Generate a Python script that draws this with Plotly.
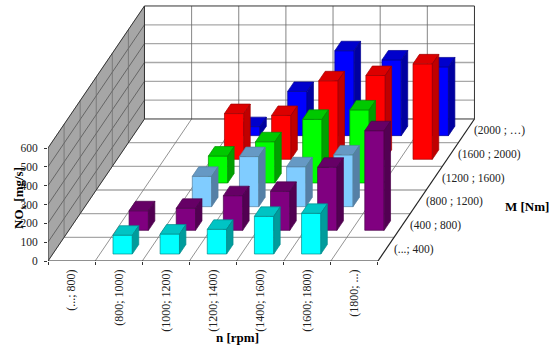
import plotly.graph_objects as go

# ---- data ----
n_labels = ["(...; 800)", "(800; 1000)", "(1000; 1200)", "(1200; 1400)",
            "(1400; 1600)", "(1600; 1800)", "(1800; ...)"]
m_labels = ["(...; 400)", "(400 ; 800)", "(800 ; 1200)", "(1200 ; 1600)",
            "(1600 ; 2000)", "(2000 ; …)"]
nox_m0 = [None, 100, 106, 131, 200, 216, None]
nox_m1 = [None, 104, 117, 184, 207, 335, 529]
nox_m2 = [None, None, 161, 266, 212, 275, None]
nox_m3 = [None, None, 143, 219, 338, 388, None]
nox_m4 = [None, None, 243, 233, 417, 445, 507]
nox_m5 = [None, None, 48, 235, 451, 402, 365]
series = [nox_m0, nox_m1, nox_m2, nox_m3, nox_m4, nox_m5]
y_ticks = [0, 100, 200, 300, 400, 500, 600]

# ---- styles: (front, top, side, edge) ----
styles = [
    ("#00FFFF", "#00C4C4", "#009C9C", "#008C8C"),
    ("#800080", "#660066", "#520052", "#4A004A"),
    ("#80CCFF", "#6699C4", "#5580A6", "#557FA0"),
    ("#00FF00", "#00C800", "#00A000", "#009000"),
    ("#FF0000", "#DC0000", "#C00000", "#A00000"),
    ("#0000FF", "#0000CC", "#0000A0", "#000090"),
]
W, H = 550, 348
LEFT, BASE = 48, 261          # pixel position of the front-left floor corner
PX_U = 47.14                  # pixels per category
PX_V = 113 / 600              # pixels per NOx unit
SKEW_X = 16.08 / PX_U         # category units per depth step
SKEW_Y = 23.67 / PX_V         # NOx units per depth step
NU, ND, VMAX = len(n_labels), len(m_labels), y_ticks[-1]
GAP_U, BAR_U, GAP_D, BAR_D = 0.278, 0.41, 0.296, 0.40


def P(u, d, v=0):
    return u + d * SKEW_X, v + d * SKEW_Y


def poly(pts, fill, edge=None, lw=0.7):
    xs = [p[0] for p in pts] + [pts[0][0]]
    ys = [p[1] for p in pts] + [pts[0][1]]
    return go.Scatter(x=xs, y=ys, mode="lines", fill="toself", fillcolor=fill,
                      line=dict(color=edge or fill, width=lw),
                      hoverinfo="skip", showlegend=False, cliponaxis=False)


def seg(a, b, color, lw):
    return go.Scatter(x=[a[0], b[0]], y=[a[1], b[1]], mode="lines",
                      line=dict(color=color, width=lw),
                      hoverinfo="skip", showlegend=False, cliponaxis=False)


fig = go.Figure()
# back wall and left wall
fig.add_trace(poly([P(0, ND), P(NU, ND), P(NU, ND, VMAX), P(0, ND, VMAX)], "#FFFFFF"))
fig.add_trace(poly([P(0, 0), P(0, ND), P(0, ND, VMAX), P(0, 0, VMAX)], "#A6A6A6"))
# grid
for v in y_ticks[1:-1]:
    fig.add_trace(seg(P(0, ND, v), P(NU, ND, v), "#A8A8A8", 1.3))
    fig.add_trace(seg(P(0, 0, v), P(0, ND, v), "#555555", 0.8))
for u in range(1, NU):
    fig.add_trace(seg(P(u, ND), P(u, ND, VMAX), "#666666", 0.8))
for d in range(1, ND):
    fig.add_trace(seg(P(0, d), P(0, d, VMAX), "#707070", 0.8))
    fig.add_trace(seg(P(0, d), P(NU, d), "#A8A8A8", 1.3))
for u in range(1, NU):
    fig.add_trace(seg(P(u, 0), P(u, ND), "#777777", 0.8))
# frame
fig.add_trace(seg(P(0, ND), P(0, ND, VMAX), "#333333", 1))
fig.add_trace(seg(P(0, 0, VMAX), P(0, ND, VMAX), "#333333", 1))
fig.add_trace(seg(P(0, ND, VMAX), P(NU, ND, VMAX), "#333333", 1))
fig.add_trace(seg(P(NU, ND), P(NU, ND, VMAX), "#333333", 1))
fig.add_trace(seg(P(0, ND), P(NU, ND), "#333333", 1))
fig.add_trace(seg(P(0, 0), P(0, 0, VMAX), "#333333", 1))
fig.add_trace(seg(P(0, 0), P(0, ND), "#333333", 1))
fig.add_trace(seg(P(0, 0), P(NU, 0), "#222222", 1.2))
fig.add_trace(seg(P(NU, 0), P(NU, ND), "#222222", 1.2))

# bars, painted back to front
for d in reversed(range(ND)):
    front, top, side, edge = styles[d]
    for u, val in enumerate(series[d]):
        if val is None:
            continue
        u0, u1 = u + GAP_U, u + GAP_U + BAR_U
        d0, d1 = d + GAP_D, d + GAP_D + BAR_D
        fig.add_trace(poly([P(u0, d0), P(u1, d0), P(u1, d0, val), P(u0, d0, val)], front, edge))
        fig.add_trace(poly([P(u0, d0, val), P(u1, d0, val), P(u1, d1, val), P(u0, d1, val)], top, edge))
        fig.add_trace(poly([P(u1, d0), P(u1, d1), P(u1, d1, val), P(u1, d0, val)], side, edge))

FONT = "Liberation Serif"
# depth axis labels
for d, label in enumerate(m_labels):
    x, y = P(NU, d + 0.5)
    fig.add_annotation(x=x, y=y, text=label, showarrow=False, xanchor="left", yanchor="middle",
                       xshift=6, font=dict(family=FONT, size=11.5, color="#222222"))
fig.add_annotation(x=(503 - LEFT) / PX_U, y=(BASE - 206) / PX_V, text="<b>M [Nm]</b>", showarrow=False,
                   xanchor="left", yanchor="middle", font=dict(family=FONT, size=13, color="#000000"))
fig.add_annotation(xref="paper", yref="paper", x=0, y=0, xshift=237.5 - LEFT, yshift=BASE - 337,
                   text="<b>n [rpm]</b>", showarrow=False,
                   xanchor="center", yanchor="middle", font=dict(family=FONT, size=13, color="#000000"))
fig.add_annotation(xref="paper", x=0, xshift=8.5 - LEFT, y=(BASE - 198) / PX_V,
                   text="<b>NO<sub>x</sub> [mg/s]</b>", textangle=-90, showarrow=False,
                   font=dict(family=FONT, size=13, color="#000000"))

fig.update_layout(
    width=W, height=H, margin=dict(l=LEFT, r=0, t=0, b=H - BASE, pad=0),
    paper_bgcolor="white", plot_bgcolor="white", showlegend=False,
    xaxis=dict(
        range=[0, (W - LEFT) / PX_U], showgrid=False, zeroline=False, showline=False,
        tickmode="array", tickvals=[i + 0.5 for i in range(NU)], ticktext=n_labels,
        tickangle=-90, ticks="", ticklabelstandoff=5,
        tickfont=dict(family=FONT, size=12, color="#222222"),
        minor=dict(tickmode="array", tickvals=list(range(NU + 1)), ticks="outside",
                   ticklen=3, tickcolor="#333333", tickwidth=1, showgrid=False),
    ),
    yaxis=dict(
        range=[0, BASE / PX_V], showgrid=False, zeroline=False, showline=False,
        tickmode="array", tickvals=y_ticks, ticks="outside", ticklen=3,
        tickcolor="#333333", tickwidth=1, ticklabelstandoff=4,
        tickfont=dict(family=FONT, size=11.5, color="#222222"),
    ),
)
fig.write_html("out.html", post_script="document.body.style.margin='0';",
               config=dict(displayModeBar=False))
